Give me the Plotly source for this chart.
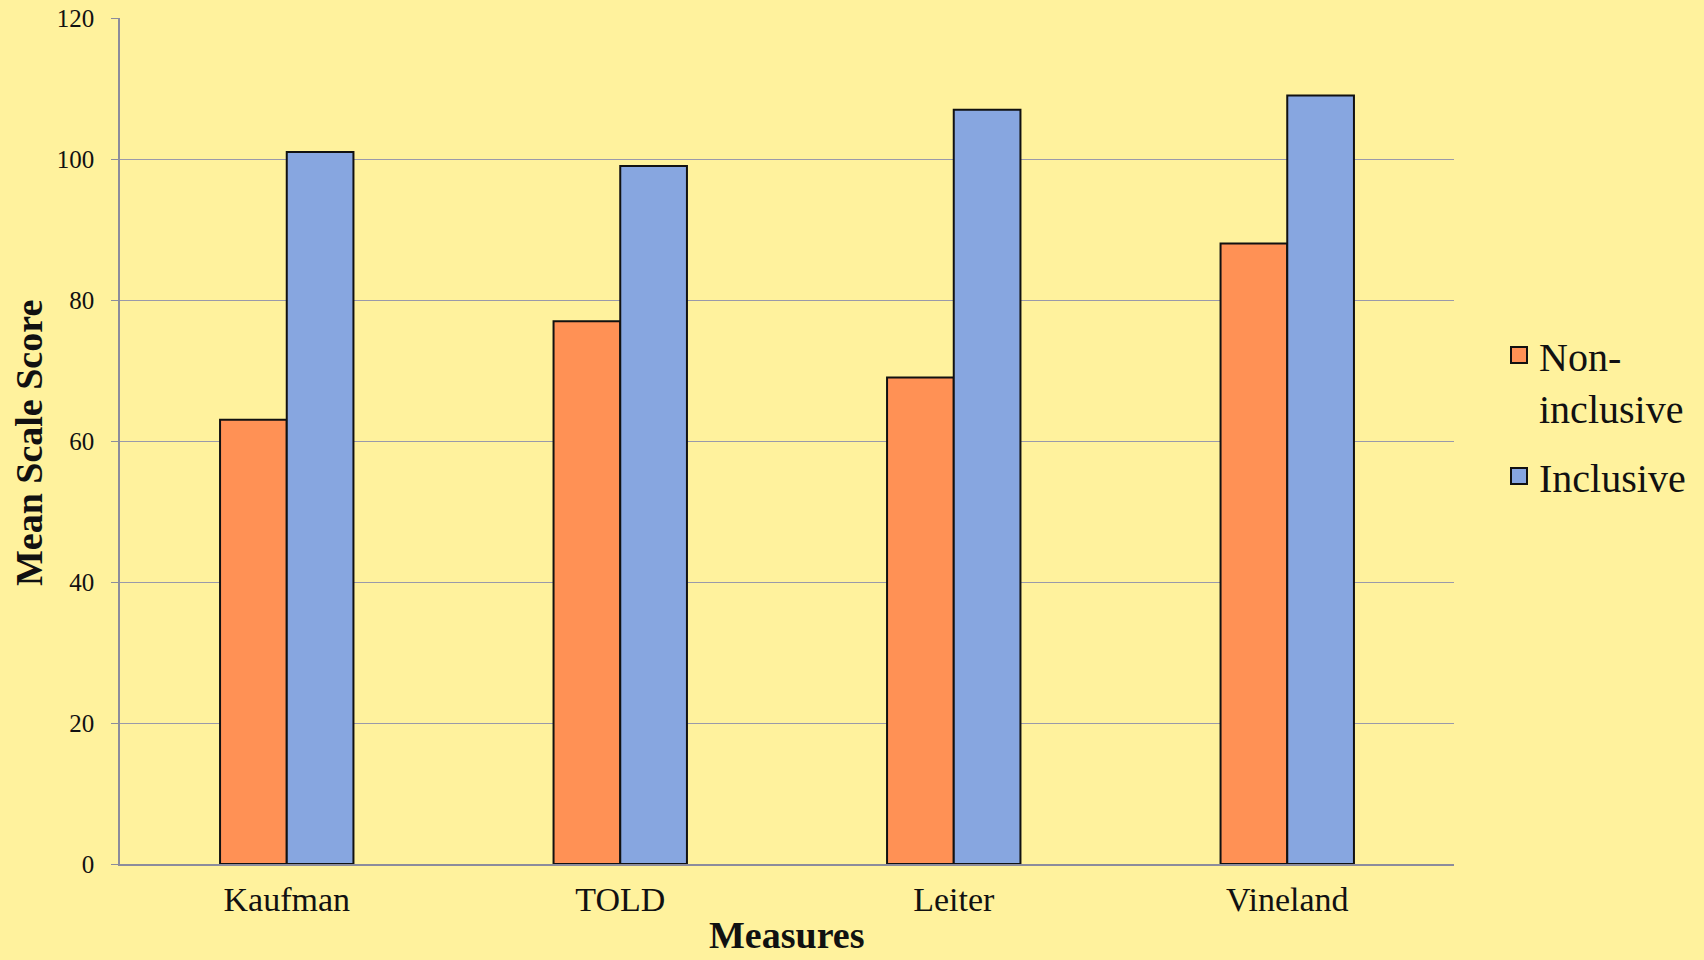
import plotly.graph_objects as go

categories = ["Kaufman", "TOLD", "Leiter", "Vineland"]
non_inclusive = [63, 77, 69, 88]
inclusive = [101, 99, 107, 109]
series_names = ["Non-<br>inclusive", "Inclusive"]
series_colors = ["#FF9155", "#87A6E0"]
y_ticks = [0, 20, 40, 60, 80, 100, 120]
x_title = "Measures"
y_title = "Mean Scale Score"

SERIF = "Liberation Serif, DejaVu Serif, serif"
BG = "#FFF29D"
OUTLINE = "#111111"

fig = go.Figure()
for vals, name, col in zip([non_inclusive, inclusive], series_names, series_colors):
    fig.add_trace(go.Bar(x=categories, y=vals, name=name, showlegend=False,
                         marker=dict(color=col, line=dict(color=OUTLINE, width=2))))
# legend entries with larger square swatches
for i, (name, col) in enumerate(zip(series_names, series_colors)):
    fig.add_trace(go.Scatter(x=[None], y=[None], mode="markers", name=name,
                             legendgroup=f"g{i}",
                             marker=dict(symbol="square", size=24, color=col,
                                         line=dict(color=OUTLINE, width=2))))

fig.update_layout(
    width=1704, height=960,
    paper_bgcolor=BG, plot_bgcolor=BG,
    barmode="group", bargap=0.6, bargroupgap=0,
    margin=dict(l=120, r=250, t=18, b=96),
    font=dict(family=SERIF, color="#111111"),
    legend=dict(xref="container", x=0.8797, y=0.530, xanchor="left", yanchor="middle",
                valign="top", traceorder="grouped", tracegroupgap=14,
                font=dict(size=40, family=SERIF, color="#111111"),
                bgcolor="rgba(0,0,0,0)", itemsizing="trace"),
    xaxis=dict(
        tickfont=dict(size=34, family=SERIF), ticklabelstandoff=4,
        showline=True, linecolor="#8c8c9c", linewidth=1.5,
        ticks="", showgrid=False, automargin=False,
    ),
    yaxis=dict(
        tickfont=dict(size=25, family=SERIF), ticklabelstandoff=12,
        range=[0, 120], tickvals=y_ticks,
        showline=True, linecolor="#8c8c9c", linewidth=1.5,
        ticks="outside", ticklen=7, tickcolor="#8c8c9c",
        showgrid=True, gridcolor="#9a9aaa", gridwidth=1.2,
        zeroline=False, automargin=False,
    ),
    annotations=[
        dict(text=f"<b>{x_title}</b>", xref="paper", yref="paper",
             x=0.5, y=-0.111, xanchor="center", yanchor="bottom",
             showarrow=False, font=dict(size=38, family=SERIF, color="#111111")),
        dict(text=f"<b>{y_title}</b>", xref="paper", yref="paper", textangle=-90,
             x=-0.0682, y=0.4976, xanchor="center", yanchor="middle",
             showarrow=False, font=dict(size=38, family=SERIF, color="#111111")),
    ],
)

fig.write_html("out.html", config={"displayModeBar": False},
               post_script="document.body.style.margin='0';")
